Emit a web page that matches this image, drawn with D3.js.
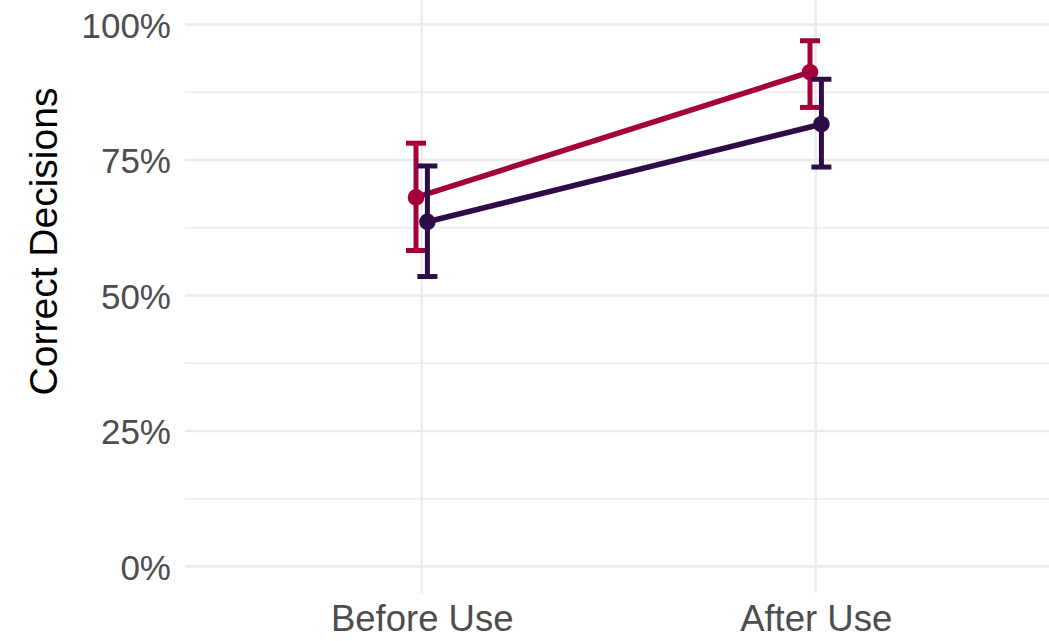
<!DOCTYPE html>
<html>
<head>
<meta charset="utf-8">
<script src="https://cdn.jsdelivr.net/npm/d3@7"></script>
<style>
  html, body { margin: 0; padding: 0; background: #fff; }
  svg { display: block; font-family: "Liberation Sans", Arial, sans-serif; }
</style>
</head>
<body>
<svg id="chart" width="1049" height="641"></svg>
<script>
// ---- data ----
const categories = ["Before Use", "After Use"];
const groupNames = ["Group A", "Group B"];
const groupColors = ["#A4003A", "#2E0C47"];
const meanA = [0.681, 0.912];
const lowA  = [0.583, 0.847];
const highA = [0.781, 0.970];
const meanB = [0.636, 0.816];
const lowB  = [0.535, 0.737];
const highB = [0.739, 0.899];
const yTicks = [0, 0.25, 0.5, 0.75, 1.0];
const yMinorTicks = [0.125, 0.375, 0.625, 0.875];
const yTickLabels = ["0%", "25%", "50%", "75%", "100%"];
const yTitle = "Correct Decisions";

const series = [
  { name: groupNames[0], color: groupColors[0], mean: meanA, low: lowA, high: highA, dodge: -1 },
  { name: groupNames[1], color: groupColors[1], mean: meanB, low: lowB, high: highB, dodge: 1 }
];

// ---- layout ----
const panel = { left: 185, right: 1049, top: 24.5, bottom: 566.5 };
const svg = d3.select("#chart");

const x = d3.scalePoint().domain(categories).range([421.7, 815.7]);
const y = d3.scaleLinear().domain([0, 1]).range([panel.bottom, panel.top]);
const dodgePx = 5.7;

const grid = svg.append("g");
grid.selectAll("line.minor").data(yMinorTicks).enter().append("line")
  .attr("x1", panel.left).attr("x2", panel.right)
  .attr("y1", d => y(d)).attr("y2", d => y(d))
  .attr("stroke", "#EBEBEB").attr("stroke-width", 1.4);
grid.selectAll("line.major").data(yTicks).enter().append("line")
  .attr("x1", panel.left).attr("x2", panel.right)
  .attr("y1", d => y(d)).attr("y2", d => y(d))
  .attr("stroke", "#EBEBEB").attr("stroke-width", 2.4);
grid.selectAll("line.vmajor").data(categories).enter().append("line")
  .attr("x1", d => x(d)).attr("x2", d => x(d))
  .attr("y1", 0).attr("y2", 593)
  .attr("stroke", "#EBEBEB").attr("stroke-width", 2.4);

// y axis labels
const yAxis = d3.axisLeft(y).tickValues(yTicks).tickFormat((d, i) => yTickLabels[i]).tickSize(0).tickPadding(0);
const yg = svg.append("g").attr("transform", "translate(171,0)").call(yAxis);
yg.select(".domain").remove();
yg.selectAll("text")
  .attr("fill", "#4D4D4D").attr("font-size", 35).attr("dy", "0.36em")
  .attr("font-family", "Liberation Sans, Arial, sans-serif");

// x axis labels
const xAxis = d3.axisBottom(x).tickSize(0).tickPadding(0);
const xg = svg.append("g").attr("transform", "translate(0,631)").call(xAxis);
xg.select(".domain").remove();
xg.selectAll("text")
  .attr("fill", "#4D4D4D").attr("font-size", 36.5).attr("dy", 0)
  .attr("font-family", "Liberation Sans, Arial, sans-serif");

// y title
svg.append("text")
  .attr("transform", "translate(57,241.5) rotate(-90)")
  .attr("text-anchor", "middle")
  .attr("font-size", 39)
  .attr("fill", "#000")
  .text(yTitle);

// marks
const line = d3.line();
series.forEach(s => {
  const g = svg.append("g");
  const pts = categories.map((c, i) => ({ cx: x(c) + s.dodge * dodgePx, m: s.mean[i], lo: s.low[i], hi: s.high[i] }));
  g.append("path")
    .attr("d", line(pts.map(p => [p.cx, y(p.m)])))
    .attr("fill", "none").attr("stroke", s.color).attr("stroke-width", 5.5);
  pts.forEach(p => {
    g.append("line").attr("x1", p.cx).attr("x2", p.cx).attr("y1", y(p.lo)).attr("y2", y(p.hi))
      .attr("stroke", s.color).attr("stroke-width", 5);
    [p.lo, p.hi].forEach(v => {
      g.append("line").attr("x1", p.cx - 10).attr("x2", p.cx + 10).attr("y1", y(v)).attr("y2", y(v))
        .attr("stroke", s.color).attr("stroke-width", 5);
    });
    g.append("circle").attr("cx", p.cx).attr("cy", y(p.m)).attr("r", 8.3).attr("fill", s.color);
  });
});
</script>
</body>
</html>
